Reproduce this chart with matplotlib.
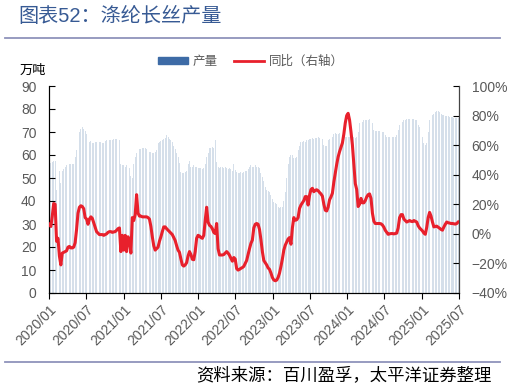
import matplotlib
matplotlib.use("Agg")
import matplotlib.pyplot as plt
from matplotlib.lines import Line2D
from matplotlib.patches import Patch
import pandas as pd

plt.rcParams['font.family'] = ['Liberation Sans', 'Noto Sans CJK SC', 'DejaVu Sans']

# 涤纶长丝周产量（万吨），按年份
prod_2020 = [56.5, 56.5, 57, 57.5, 57.5, 45, 52, 53, 48, 53, 54, 55, 55.5, 55.5, 56, 56, 56, 56,
             59, 62, 67, 70, 71.5, 72, 71.5, 70.5, 69, 65, 65.5, 66, 65, 65, 65.5, 65.5, 65, 65.5,
             65.5, 65, 65, 66, 66.5, 66.5, 66.5, 66.5, 66.5, 67, 67, 67, 67, 66.5, 56, 55.5]
prod_2021 = [55.5, 55, 55.5, 55, 54.5, 51, 50, 56, 59, 61, 62, 62.5, 62.5, 63, 63, 63, 62.5, 62,
             61.5, 61.5, 61, 61, 61.5, 62, 65, 65.5, 66, 66.5, 67, 67.5, 68.5, 68, 67, 66.5, 65.5,
             64, 62.5, 61, 59, 56.5, 52.5, 52, 52, 52.5, 53, 56, 57.5, 55, 55, 55.5, 55, 55, 54.5]
prod_2022 = [54.5, 54.5, 54, 54.5, 56, 59, 61, 63, 63, 63.5, 63, 66.5, 57, 55, 54.5, 55, 55, 54.5,
             55, 54.5, 54, 54.5, 54, 53, 56, 53.5, 52.5, 52, 52, 52.5, 52, 52.5, 53, 53, 54, 55,
             55.5, 55, 55, 55.5, 55, 55, 54.5, 52, 50.5, 48.5, 46, 45, 44.5, 44, 42.5, 41]
prod_2023 = [39.5, 39, 38.5, 37.5, 37, 37.5, 37.5, 40, 44, 50, 56, 59, 60, 60, 58.5, 58.5, 59, 62,
             64, 65.5, 65.5, 66, 65.5, 66.5, 66.5, 67, 67, 67.5, 67, 67.5, 67.5, 68, 67.5, 68, 67,
             64.5, 64, 64, 66.5, 67, 67.5, 68, 69, 69.5, 69, 69, 69.5, 69, 68.5, 68, 68, 68]
prod_2024 = [68, 68, 67.5, 68, 68, 67.5, 68, 70, 74, 74.5, 74.5, 75, 75, 75, 75, 75.5, 75, 74,
             71, 70.5, 70.5, 70.5, 70.5, 70.5, 70, 70, 68.5, 68, 68, 68, 68, 68, 68, 68, 68.5, 71,
             73, 74, 74.5, 75, 75, 75.5, 75.5, 75.5, 75.5, 75.5, 75.5, 75, 75, 73, 72, 71]
prod_2025 = [68, 65, 64.5, 65, 70, 75, 77, 77.5, 78, 78.5, 79, 79, 78.5, 78, 77.5, 77.5, 77, 77,
             77, 76.5, 76.5, 76.5, 76, 76, 76, 76]

# 同比（%），右轴
yoy_2020 = [6.5, 5, 12, 20.5, 20, -5, -3, -15, -21, -13, -12.5, -12, -11.5, -9, -8.5, -9.5, -9.5,
            -9, -6, 3, 14, 18, 19, 18.5, 17, 11, 10, 6.5, 10, 11.5, 10.5, 7.5, 4.5, 1.5, 0.5, -0.5,
            -0.5, -0.5, -1, -0.5, 0, 1, 1.5, 1.5, 1, 1.3, 1.5, 2.4, 3.5, 4, -12, -1]
yoy_2021 = [-11, -1, -12, -2, -4, -13, 11, 9, 13, 26.5, 14, 12, 12, 11.5, 11.5, 11.5, 11.5, 11,
            10, 5, -2, -8, -11, -10, -9, -5, -2, 1.5, 4.7, 4.7, 3.5, 2.5, 1.5, 0.5, -0.5, -2.5,
            -4.5, -8, -11, -12.5, -17, -21, -21.8, -21, -19.5, -15, -12, -14, -17.2, -17.5, -12,
            -3, -1]
yoy_2022 = [-1.5, -2.5, -3, -1, 9, 18, 8, 5.8, 5, 3.5, 1, 0.2, 7, -10, -14.3, -14.3, -14.3, -14,
            -13, -12, -13, -14.5, -16.5, -18.5, -16, -17, -23.5, -24.5, -24, -23.3, -22.8, -22,
            -20, -18, -14, -10, -6.4, -4.2, 4, 6.5, 7, 6.5, 3, -4, -12, -18, -19.5, -21, -23, -24,
            -26.5, -29.5]
yoy_2023 = [-31.2, -31.7, -31.3, -29.5, -26.5, -22, -17, -11, -7.7, -5.6, -3.5, -2.5, -7, 4, 11,
            9.2, 9.5, 11, 17.2, 19.5, 21, 22.5, 25.2, 25.2, 19.5, 26, 30, 30.8, 28.5, 29.5, 29.8,
            29.2, 28, 27, 25.5, 20, 16, 15.5, 18, 23, 25, 27.5, 35, 41, 47, 52, 55.6, 58.5, 61.5,
            67.5, 75, 80]
yoy_2024 = [81.5, 77, 69, 60, 47, 34, 30, 18.5, 20, 24, 21, 21, 22.5, 25, 26.5, 27, 24, 14, 8.5,
            7, 7, 7, 7, 6.8, 6, 4.5, 2.4, 1, -0.3, 0, 0.2, 0.2, 0, 0.2, 0.5, 4, 11, 13, 13, 10, 9,
            8, 8.5, 9, 8.5, 8.3, 9, 8.5, 8, 5.5, 4, 3]
yoy_2025 = [2, 0.5, -0.3, 4.5, 11, 14.5, 12, 8, 4.7, 5, 5.2, 4.5, 3.8, 3, 2.5, 4.7, 6.5, 8, 7.5,
            7.3, 7, 7, 6.8, 6.6, 7, 8]

tick_labels = ['2020/01', '2020/07', '2021/01', '2021/07', '2022/01', '2022/07',
               '2023/01', '2023/07', '2024/01', '2024/07', '2025/01', '2025/07']

prod = prod_2020 + prod_2021 + prod_2022 + prod_2023 + prod_2024 + prod_2025
yoy = yoy_2020 + yoy_2021 + yoy_2022 + yoy_2023 + yoy_2024 + yoy_2025
dates = pd.date_range('2020-01-03', periods=len(prod), freq='7D')

gray = '#595959'
fig = plt.figure(figsize=(5.07, 3.89), dpi=100)
ax = fig.add_axes([49 / 507, 96 / 389, 410 / 507, 207 / 389])

ax.bar(dates, prod, width=4.6, color='#d5dfea', linewidth=0, zorder=1)
ax.set_ylim(0, 90)
ax.set_yticks(range(0, 91, 10))
ax.set_xlim(pd.Timestamp('2020-01-01'), pd.Timestamp('2025-07-01'))
ticks = [pd.Timestamp(t.replace('/', '-') + '-01') for t in tick_labels]
ax.set_xticks(ticks)
ax.set_xticklabels(tick_labels, rotation=45, ha='right', va='top', rotation_mode='anchor')

ax2 = ax.twinx()
ax2.plot(dates, yoy, color='#e8202c', lw=2.2, zorder=3)
ax2.set_ylim(-40, 100)
ax2.set_yticks(range(-40, 101, 20))
ax2.set_yticklabels([f'{v}%'.replace('-', '\u2212') for v in range(-40, 101, 20)])

for a in (ax, ax2):
    a.spines['top'].set_visible(False)
    a.tick_params(axis='y', direction='in', length=4, labelsize=10, labelcolor=gray, pad=9)
ax.tick_params(axis='x', direction='out', length=4, labelsize=10, labelcolor=gray, pad=3)
ax.spines['left'].set_color('#222222')
ax2.spines['right'].set_color('#444444')
ax.spines['bottom'].set_color('#222222')

# 标题与分隔线
fig.text(18 / 507, 1 - 16 / 389, '图表52：涤纶长丝产量', fontsize=14.5, color='#375a94', va='center', ha='left')
fig.add_artist(Line2D([5 / 507, 500 / 507], [1 - 37.5 / 389] * 2, color='#8f93bb', lw=1.3))
fig.add_artist(Line2D([5 / 507, 500 / 507], [1 - 361.5 / 389] * 2, color='#8f93bb', lw=1.3))
fig.text(20 / 507, 1 - 71 / 389, '万吨', fontsize=9.5, color='black', va='center', ha='left')
fig.text(492 / 507, 1 - 375 / 389, '资料来源：百川盈孚，太平洋证券整理', fontsize=12.5,
         color='black', va='center', ha='right')

handles = [Patch(color='#3d6ba6'), Line2D([0], [0], color='#e8202c', lw=2)]
fig.legend(handles, ['产量', '同比（右轴）'], loc='center', bbox_to_anchor=(0.495, 1 - 62 / 389),
           ncol=2, frameon=False, fontsize=9, labelcolor=gray, handlelength=2.4,
           handleheight=0.5, handletextpad=0.4, columnspacing=1.3)

fig.savefig('out.png', dpi=100)
